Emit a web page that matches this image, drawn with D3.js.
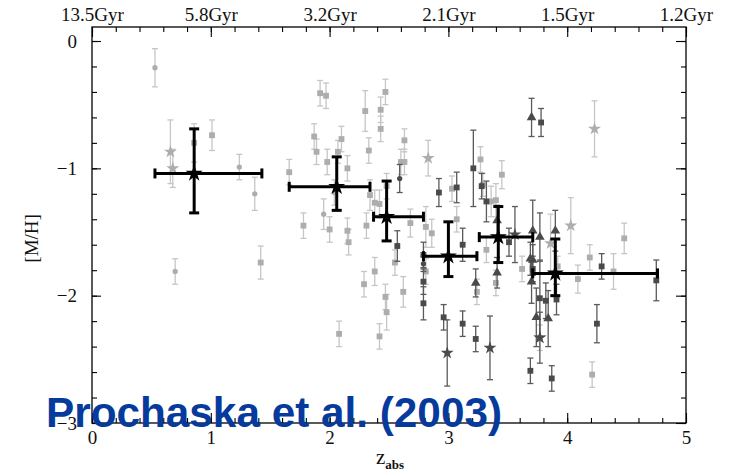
<!DOCTYPE html>
<html><head><meta charset="utf-8">
<script src="https://cdn.jsdelivr.net/npm/d3@7"></script>
<style>body{margin:0;background:#fff} svg{display:block}</style>
</head><body><svg id="chart" width="733" height="471"></svg>
<script>
// Light-grey sample: absorption redshift, metallicity, 1-sigma error, marker kind
const lightZ   = [0.53,0.66,0.68,0.86,1.01,1.24,1.37,1.66,1.78,0.70,1.42,1.92,1.97,1.87,1.89,1.98,2.07,2.10,2.15,2.04,2.30,2.33,2.47,2.43,2.43,2.63,2.60,2.63,2.83,3.03,3.27,3.29,3.36,3.40,3.45,1.95,2.00,2.15,2.16,2.34,2.38,2.42,2.31,2.68,2.48,2.81,2.86,3.07,3.32,2.29,2.38,2.47,2.48,2.55,2.62,2.08,2.42,2.81,3.24,3.40,4.23,3.86,4.03,3.62,3.77,4.21,4.09,4.19,4.39,4.48,3.92];
const lightMH  = [-0.21,-0.87,-1.00,-0.80,-0.74,-0.99,-1.20,-1.03,-1.45,-1.81,-1.74,-0.41,-0.43,-0.75,-0.87,-0.95,-0.87,-0.77,-1.00,-1.19,-0.55,-0.86,-0.40,-0.54,-0.69,-0.78,-0.95,-0.95,-0.92,-1.16,-0.93,-1.13,-1.26,-1.25,-1.05,-1.36,-1.48,-1.49,-1.58,-1.21,-1.27,-1.28,-1.45,-1.43,-1.14,-1.46,-1.51,-1.40,-1.64,-1.91,-1.81,-2.01,-2.13,-1.74,-1.97,-2.30,-2.32,-1.81,-1.97,-1.90,-0.69,-1.59,-1.45,-1.79,-2.33,-2.62,-1.87,-1.70,-1.81,-1.55,-1.77];
const lightErr = [0.15,0.25,0.15,0.15,0.12,0.10,0.13,0.10,0.10,0.10,0.13,0.10,0.10,0.10,0.10,0.10,0.09,0.10,0.10,0.10,0.16,0.10,0.10,0.10,0.10,0.09,0.10,0.10,0.14,0.10,0.10,0.09,0.12,0.13,0.11,0.12,0.10,0.10,0.10,0.12,0.10,0.11,0.10,0.11,0.10,0.16,0.11,0.10,0.10,0.10,0.11,0.10,0.14,0.10,0.12,0.10,0.10,0.10,0.10,0.10,0.22,0.23,0.22,0.10,0.10,0.10,0.11,0.10,0.14,0.12,0.08];
const lightKind = ['c','*','*','s','s','c','c','s','s','c','s','s','s','s','s','s','s','s','s','c','s','s','s','s','s','s','s','s','*','s','s','s','s','s','s','c','s','s','s','s','s','s','s','s','s','s','s','s','s','s','s','s','s','s','s','s','s','s','s','s','*','*','*','s','*','s','s','s','s','s','s'];

// Dark-grey sample
const darkZ   = [2.59,2.92,3.07,3.21,3.28,3.32,2.57,3.12,2.79,2.79,2.79,2.96,2.99,3.12,3.23,3.35,3.23,3.41,3.70,3.78,3.41,3.51,3.56,2.79,3.71,3.77,3.90,3.69,3.71,3.71,3.70,3.77,3.82,3.74,3.84,3.77,3.69,3.87,4.25,3.91,4.29,4.75];
const darkMH  = [-1.08,-1.19,-1.15,-1.00,-1.14,-1.26,-1.61,-1.60,-1.89,-2.06,-1.75,-2.17,-2.45,-2.22,-2.34,-2.41,-1.90,-1.82,-0.60,-0.64,-1.41,-1.58,-1.52,-1.68,-1.49,-1.54,-1.49,-1.71,-1.72,-1.79,-1.89,-2.02,-2.04,-2.17,-2.18,-2.33,-2.59,-2.65,-2.22,-2.03,-1.77,-1.88];
const darkErr = [0.11,0.11,0.12,0.30,0.10,0.16,0.12,0.13,0.10,0.13,0.06,0.10,0.26,0.10,0.10,0.25,0.11,0.12,0.15,0.11,0.12,0.11,0.22,0.10,0.24,0.19,0.16,0.13,0.12,0.10,0.17,0.30,0.14,0.23,0.22,0.20,0.10,0.10,0.15,0.12,0.10,0.16];
const darkKind = ['c','s','s','s','s','s','s','s','s','s','c','s','*','s','s','*','t','t','t','s','t','s','*','s','t','t','t','t','t','s','t','s','s','t','t','*','s','s','s','s','s','s'];

// Binned means: centre, redshift range, mean [M/H] and its range
const binZ    = [0.86,2.06,2.48,3.00,3.42,3.90];
const binZlo  = [0.53,1.66,2.37,2.79,3.26,3.71];
const binZhi  = [1.43,2.34,2.79,3.24,3.71,4.76];
const binMH   = [-1.04,-1.145,-1.38,-1.69,-1.54,-1.825];
const binMHhi = [-0.69,-0.91,-1.10,-1.42,-1.30,-1.555];
const binMHlo = [-1.35,-1.33,-1.57,-1.85,-1.74,-2.00];

// Axis ticks and lookback-time labels along the top
const zTicks = [0,1,2,3,4,5];
const mhTicks = [0,-1,-2,-3];
const ageLabels = ['13.5Gyr','5.8Gyr','3.2Gyr','2.1Gyr','1.5Gyr','1.2Gyr'];

const svg = d3.select('#chart');
const x = d3.scaleLinear().domain([0,5]).range([92,686]);
const y = d3.scaleLinear().domain([-3,0.11]).range([423,27]);

const shapes = {s: d3.symbolSquare, c: d3.symbolCircle, '*': d3.symbolStar, t: d3.symbolTriangle};
const sizes = {s: 34, c: 22, '*': 52, t: 40};

function drawSample(zs, mhs, errs, kinds, barColor, markColor) {
  const data = zs.map((z, i) => ({z, mh: mhs[i], err: errs[i], kind: kinds[i]}));
  const g = svg.append('g');
  const bars = g.selectAll('g').data(data).join('g')
    .attr('stroke', barColor).attr('stroke-width', 1.3);
  bars.append('line')
    .attr('x1', d => x(d.z)).attr('x2', d => x(d.z))
    .attr('y1', d => y(d.mh + d.err)).attr('y2', d => y(d.mh - d.err));
  [1, -1].forEach(sgn => bars.append('line')
    .attr('x1', d => x(d.z) - 3).attr('x2', d => x(d.z) + 3)
    .attr('y1', d => y(d.mh + sgn * d.err)).attr('y2', d => y(d.mh + sgn * d.err)));
  g.selectAll('path').data(data).join('path')
    .attr('d', d => d3.symbol(shapes[d.kind], sizes[d.kind])())
    .attr('transform', d => `translate(${x(d.z)},${y(d.mh)})`)
    .attr('fill', markColor);
}

drawSample(lightZ, lightMH, lightErr, lightKind, '#c6c6c6', '#adadad');
drawSample(darkZ, darkMH, darkErr, darkKind, '#5a5a5a', '#4a4a4a');

// Binned means
const bins = binZ.map((z, i) => ({z, lo: binZlo[i], hi: binZhi[i], mh: binMH[i], top: binMHhi[i], bot: binMHlo[i]}));
const bg = svg.append('g').attr('stroke', '#000').attr('stroke-width', 3).attr('stroke-linecap', 'butt');
const bb = bg.selectAll('g').data(bins).join('g');
bb.append('line').attr('x1', d => x(d.lo)).attr('x2', d => x(d.hi)).attr('y1', d => y(d.mh)).attr('y2', d => y(d.mh));
bb.append('line').attr('x1', d => x(d.z)).attr('x2', d => x(d.z)).attr('y1', d => y(d.top)).attr('y2', d => y(d.bot));
['lo', 'hi'].forEach(k => bb.append('line')
  .attr('x1', d => x(d[k])).attr('x2', d => x(d[k]))
  .attr('y1', d => y(d.mh) - 5).attr('y2', d => y(d.mh) + 5));
['top', 'bot'].forEach(k => bb.append('line')
  .attr('x1', d => x(d.z) - 5).attr('x2', d => x(d.z) + 5)
  .attr('y1', d => y(d[k])).attr('y2', d => y(d[k])));
svg.append('g').selectAll('path').data(bins).join('path')
  .attr('d', d3.symbol(d3.symbolStar, 90)())
  .attr('transform', d => `translate(${x(d.z)},${y(d.mh)})`)
  .attr('fill', '#000');

// Frame and axes
svg.append('rect').attr('x', x(0)).attr('y', y(0.11)).attr('width', x(5) - x(0)).attr('height', y(-3) - y(0.11))
  .attr('fill', 'none').attr('stroke', '#000').attr('stroke-width', 1.3);

const zMinor = d3.range(0, 5.001, 0.2);
const mhMinor = d3.range(-3, 0.001, 0.2);
const tickFont = 'Liberation Serif, DejaVu Serif, serif';

function styleAxis(g) {
  g.select('.domain').remove();
  g.selectAll('line').attr('stroke', '#000').attr('stroke-width', 1.1);
  g.selectAll('text').attr('font-family', tickFont).attr('font-size', 19).attr('fill', '#111');
}

svg.append('g').attr('transform', `translate(0,${y(-3)})`)
  .call(d3.axisBottom(x).tickValues(zMinor).tickSize(-5).tickFormat('')).call(styleAxis);
svg.append('g').attr('transform', `translate(0,${y(-3)})`)
  .call(d3.axisBottom(x).tickValues(zTicks).tickSize(-10).tickPadding(8).tickFormat(d3.format('d'))).call(styleAxis);

svg.append('g').attr('transform', `translate(0,${y(0.11)})`)
  .call(d3.axisTop(x).tickValues(zMinor).tickSize(-5).tickFormat('')).call(styleAxis);
svg.append('g').attr('transform', `translate(0,${y(0.11)})`)
  .call(d3.axisTop(x).tickValues(zTicks).tickSize(-10).tickPadding(6).tickFormat((d, i) => ageLabels[i])).call(styleAxis);

svg.append('g').attr('transform', `translate(${x(0)},0)`)
  .call(d3.axisLeft(y).tickValues(mhMinor).tickSize(-5).tickFormat('')).call(styleAxis);
svg.append('g').attr('transform', `translate(${x(0)},0)`)
  .call(d3.axisLeft(y).tickValues(mhTicks).tickSize(-9).tickPadding(15).tickFormat(d => d === 0 ? '0' : '\u2212' + Math.abs(d))).call(styleAxis);

svg.append('g').attr('transform', `translate(${x(5)},0)`)
  .call(d3.axisRight(y).tickValues(mhMinor).tickSize(-5).tickFormat('')).call(styleAxis);
svg.append('g').attr('transform', `translate(${x(5)},0)`)
  .call(d3.axisRight(y).tickValues(mhTicks).tickSize(-10).tickFormat('')).call(styleAxis);

// Axis titles
svg.append('text').attr('transform', `translate(38,${y(-1.55)}) rotate(-90)`)
  .attr('text-anchor', 'middle').attr('font-family', tickFont).attr('font-size', 19).attr('fill', '#111')
  .text('[M/H]');
const xt = svg.append('text').attr('x', 376).attr('y', 464)
  .attr('font-family', tickFont).attr('font-size', 21).attr('fill', '#111');
xt.append('tspan').text('z');
xt.append('tspan').attr('dy', 5).attr('font-size', 13).attr('font-weight', 'bold').text('abs');

// Citation overlay
svg.append('text').attr('x', 46).attr('y', 427)
  .attr('font-family', 'Liberation Sans, Arial, sans-serif').attr('font-weight', 'bold')
  .attr('font-size', 43).attr('fill', '#063a9c')
  .attr('textLength', 456).attr('lengthAdjust', 'spacingAndGlyphs')
  .text('Prochaska et al. (2003)');
</script></body></html>
